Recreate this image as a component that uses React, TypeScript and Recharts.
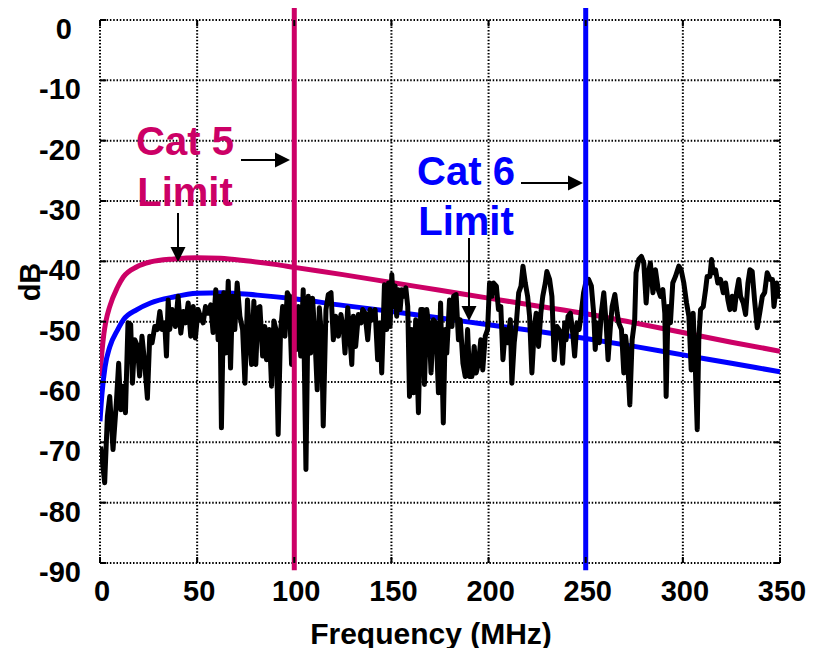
import React from "react";
import { LineChart, Line, XAxis, YAxis, CartesianGrid, ReferenceLine } from "recharts";

const X_TICKS = [0, 50, 100, 150, 200, 250, 300, 350];
const Y_TICKS = [0, -10, -20, -30, -40, -50, -60, -70, -80, -90];

// Cat 5 / Cat 6 limit curves
const cat5Freq = [0, 1, 2, 3, 5, 9, 12, 19, 26, 38, 50, 62, 75, 90, 100, 125, 150, 175, 200, 225, 250, 275, 300, 325, 350];
const cat5Db = [-59, -55, -52, -50, -47.5, -44.3, -42.6, -40.9, -40.1, -39.6, -39.4, -39.5, -39.9, -40.5, -41, -42.2, -43.5, -44.8, -46.1, -47.4, -48.7, -50.2, -51.8, -53.4, -54.9];
const cat6Freq = [0, 1, 2.6, 5, 9, 12, 19, 26, 38, 50, 63, 81, 100, 125, 150, 175, 200, 225, 250, 275, 300, 325, 350];
const cat6Db = [-66.5, -62, -57.5, -54.2, -51.4, -49.7, -48, -46.9, -45.9, -45.3, -45.2, -45.6, -46.2, -47.3, -48.3, -49.4, -50.5, -51.6, -52.8, -54.1, -55.5, -56.9, -58.3];

// measured trace
const noiseFreq = [
  0.3, 1.3, 2.4, 3.8, 5, 6.7, 8.4, 9.6, 10.7, 11.9, 13.1, 14.4, 15.8, 16.7, 17.9, 19.2, 20.4, 21.6, 23, 24.4,
  25.6, 26.8, 28.2, 29.6, 30.8, 32, 33.3, 34.2, 35.1, 35.9, 37.1, 38.8, 40.2, 41.6, 42.9, 44, 45.4, 46.7, 48, 49.1,
  50.5, 51.9, 53.1, 54.3, 55.7, 57, 58.2, 59.6, 60.8, 61.7, 62.5, 63.7, 64.8, 66, 67.2, 68.2, 69.4, 70.6, 72, 73.4,
  74.6, 75.9, 77.2, 78, 79.2, 80.2, 81.4, 82.3, 83.7, 84.8, 85.7, 87.1, 88.3, 89.5, 90.6, 91.7, 92.9, 94, 95.2, 96.4,
  97.4, 98.6, 99.5, 100.3, 101.2, 102.1, 103.3, 104.6, 106, 107.2, 108.4, 109.4, 110.6, 111.8, 112.9, 114.1, 114.9, 116.3, 117.5, 118.9,
  120.1, 121.3, 122.7, 124, 125.3, 126.1, 127.5, 128.7, 129.6, 130.4, 131.6, 133, 134.4, 135.2, 136.4, 137.8, 139, 140.2, 141.6, 142.9,
  144.2, 145, 146.4, 147.6, 148.5, 149.3, 150.2, 151, 151.9, 152.7, 153.6, 154.5, 155.3, 156.2, 157.4, 158.4, 159.3, 160.5, 161.3, 162.5,
  163.9, 165.1, 166.1, 167, 168.2, 169.4, 170.4, 171.6, 172.8, 174.2, 175.3, 176.7, 177.7, 178.5, 179.9, 181.2, 182, 183.3, 184.5, 185.4,
  186.8, 188, 189.2, 190.2, 191.4, 192.6, 193.6, 194.8, 196, 197, 198.3, 199.5, 200.5, 201.7, 202.6, 204, 205.1, 206.3, 207.4, 208.6,
  209.8, 211.2, 212, 213.2, 214.3, 215.5, 216.7, 217.7, 218.9, 220.1, 221.1, 222.3, 223.6, 224.5, 225.7, 226.9, 227.9, 229.2, 230, 231.4,
  232.6, 233.8, 235.2, 236.6, 237.5, 238.1, 239.2, 239.9, 240.9, 242.1, 243.3, 244.3, 245.5, 246.6, 247.7, 248.9, 250.2, 251.5, 252.9, 254.1,
  254.9, 255.8, 257, 258, 259.3, 260.5, 261.5, 262.7, 263.6, 265, 266.2, 267, 268.4, 269.6, 270.5, 271.3, 272.7, 273.9, 275.2, 275.9,
  277.3, 278.7, 279.9, 281.1, 282.2, 283.3, 284.6, 285.9, 287.3, 288.5, 289.7, 290.7, 291.4, 292.4, 293.6, 294.8, 296.2, 297.9, 299.1, 300.5,
  301.9, 303.1, 304.3, 305.3, 306.5, 307.4, 308.2, 309.1, 310.5, 311.7, 312.5, 313.9, 314.8, 315.6, 316.8, 318, 319.4, 320.8, 322, 323.2,
  324.2, 325.4, 326.6, 327.6, 328.8, 329.7, 331.1, 332.3, 333.5, 334.5, 335.7, 336.9, 338.3, 339.7, 340.9, 342.1, 343.4, 344.9, 346.1, 346.9,
  348.3, 349.5, 350,
];
const noiseDb = [
  -70.7, -73.4, -76.7, -65.7, -62.4, -71.2, -63.5, -56.9, -64.6, -60.7, -65.1, -50.2, -50.5, -60.2, -53, -54, -59, -52.4, -56.9, -62.7,
  -52.4, -53.5, -50.8, -51.3, -48.3, -51.3, -50.2, -55.7, -46.4, -51.3, -48, -50.8, -45.8, -51.9, -48.3, -50.2, -46.9, -52.4, -47.5, -52.7,
  -48, -49.4, -50.2, -47.5, -48.6, -47.2, -51.8, -44.7, -53, -45.8, -67.6, -45.2, -55.2, -43.3, -57.7, -45.8, -51.3, -43.6, -49.1, -51.3,
  -60.2, -46.4, -53.5, -57.1, -46.6, -57.1, -47.7, -47.5, -55.7, -50.8, -56.3, -51.3, -60.7, -49.9, -51.3, -68.7, -51.9, -47.5, -52.4, -45.2,
  -45.8, -57.1, -45.8, -53, -54.6, -47.5, -55.7, -44.7, -74.5, -45.8, -55.2, -46.1, -52.4, -61.3, -47.7, -53, -67.3, -48, -45.5, -45.2,
  -53, -49.1, -52.4, -48.8, -51.3, -55.2, -47.7, -53, -57.1, -49.1, -54.1, -48.8, -50.2, -48, -48.6, -53, -48, -49.7, -48, -56.3,
  -50.2, -58.5, -43.9, -51.3, -43.6, -50.8, -42.2, -47.5, -44.1, -49.1, -44.7, -48, -44.7, -45.8, -44.4, -47.5, -62.4, -51.3, -61.8, -49.7,
  -65.1, -48, -48, -60.4, -48, -51.3, -58.5, -49.7, -50.2, -61.8, -46.9, -66.8, -51.3, -55.2, -46.4, -50.8, -45.8, -45.5, -53, -49.7,
  -56.9, -59.1, -51.3, -59.1, -59.1, -54.1, -58.5, -56.9, -53, -58, -52.4, -51.3, -43.6, -45.8, -43.6, -44.1, -48, -47.5, -56.3, -51.3,
  -53.5, -49.7, -60.2, -53.5, -50.2, -45.2, -44.1, -40.8, -43.6, -45.8, -49.1, -58.5, -50.8, -48.6, -54.1, -48.6, -45.8, -43.6, -41.7, -43,
  -45.8, -56.3, -50.8, -51.5, -53.5, -56.9, -50.2, -53, -49.1, -48.6, -51.9, -55.7, -50.2, -51.3, -48.6, -45.2, -43.3, -43, -44.1, -48.6,
  -54.6, -50.2, -53.5, -48.6, -45.2, -50.2, -56.3, -50.8, -47.5, -45.5, -48.6, -50.2, -51.3, -58.5, -52.4, -54.6, -63.8, -53, -49.7, -41.9,
  -39.7, -39.2, -40.3, -46.9, -41.9, -40.3, -45.2, -41.4, -44.7, -45.8, -44.7, -48.6, -62.4, -47.5, -50.2, -43.6, -42.5, -40.8, -41.4, -43.6,
  -46.9, -49.1, -58, -48.6, -58.5, -67.9, -53, -48, -47.5, -44.7, -42.5, -42.5, -39.7, -41.9, -41.4, -43.6, -43, -45.2, -43.6, -46.4,
  -48, -45.8, -48, -45.2, -43, -45.8, -46.9, -48.8, -43.6, -41.4, -41.7, -46.4, -51, -48.3, -45.8, -45.2, -41.9, -43, -43, -47.5,
  -43.6, -45.8, -44.7,
];

const cat5Data = cat5Freq.map((f, i) => ({ f, v: cat5Db[i] }));
const cat6Data = cat6Freq.map((f, i) => ({ f, v: cat6Db[i] }));
const noiseData = noiseFreq.map((f, i) => ({ f, v: noiseDb[i] }));

const PINK = "#cc0066";
const BLUE = "#0000ff";
const FONT = "'Liberation Sans', Arial, sans-serif";

const W = 800;
const H = 640;
const PLOT_TOP = 12;
const PLOT_RIGHT = 772;

const YTick = (props: any) => {
  const { x, y, payload } = props;
  // the "0" label sits a little further left in the original
  const shift = payload.value === 0 ? 9 : 0;
  return (
    <g>
      <line x1={x} x2={x + 6} y1={y} y2={y} stroke="#000" strokeWidth={2} />
      <line x1={PLOT_RIGHT} x2={PLOT_RIGHT - 6} y1={y} y2={y} stroke="#000" strokeWidth={2} />
      <text x={x - 19 - shift} y={y + 9} textAnchor="end" dominantBaseline="central"
        fontFamily={FONT} fontWeight="bold" fontSize={29} fill="#000">
        {payload.value}
      </text>
    </g>
  );
};

const XTick = (props: any) => {
  const { x, y, payload } = props;
  return (
    <g>
      <line x1={x} x2={x} y1={y} y2={y - 6} stroke="#000" strokeWidth={2} />
      <line x1={x} x2={x} y1={PLOT_TOP} y2={PLOT_TOP + 6} stroke="#000" strokeWidth={2} />
      <text x={x + 2} y={y + 28} textAnchor="middle" dominantBaseline="central"
        fontFamily={FONT} fontWeight="bold" fontSize={29} fill="#000">
        {payload.value}
      </text>
    </g>
  );
};

const Arrow = ({ x1, y1, x2, y2 }: { x1: number; y1: number; x2: number; y2: number }) => {
  const ang = Math.atan2(y2 - y1, x2 - x1);
  const len = 15;
  const half = 7.5;
  const bx = x2 - len * Math.cos(ang);
  const by = y2 - len * Math.sin(ang);
  const px = -Math.sin(ang) * half;
  const py = Math.cos(ang) * half;
  return (
    <g>
      <line x1={x1} y1={y1} x2={bx} y2={by} stroke="#000" strokeWidth={2} />
      <polygon points={`${x2},${y2} ${bx + px},${by + py} ${bx - px},${by - py}`} fill="#000" />
    </g>
  );
};

export default function App() {
  const boldText = { fontFamily: FONT, fontWeight: "bold" as const };
  return (
    <div style={{ position: "relative", width: W, height: H, background: "#fff" }}>
      <LineChart width={W} height={H} margin={{ top: PLOT_TOP, right: W - PLOT_RIGHT, left: 32, bottom: 35 }}>
        <CartesianGrid stroke="#000" strokeWidth={2} strokeDasharray="1.5 1.8" />
        <XAxis type="number" dataKey="f" domain={[0, 350]} ticks={X_TICKS} height={50}
          axisLine={false} tickLine={false} tickSize={0} tickMargin={0} tick={<XTick />}
          interval={0} allowDataOverflow />
        <YAxis type="number" dataKey="v" domain={[-90, 0]} ticks={Y_TICKS} width={60}
          axisLine={false} tickLine={false} tickSize={0} tickMargin={0} tick={<YTick />}
          interval={0} allowDataOverflow />
        <Line data={cat5Data} dataKey="v" type="monotone" stroke={PINK} strokeWidth={5}
          dot={false} isAnimationActive={false} />
        <Line data={cat6Data} dataKey="v" type="monotone" stroke={BLUE} strokeWidth={5}
          dot={false} isAnimationActive={false} />
        <Line data={noiseData} dataKey="v" type="linear" stroke="#000" strokeWidth={5}
          strokeLinejoin="round" dot={false} isAnimationActive={false} />
        <ReferenceLine segment={[{ x: 100, y: 2.8 }, { x: 100, y: -91.2 }]} stroke={PINK}
          strokeWidth={5} ifOverflow="visible" />
        <ReferenceLine segment={[{ x: 250, y: 2.8 }, { x: 250, y: -91.2 }]} stroke={BLUE}
          strokeWidth={5} ifOverflow="visible" />
      </LineChart>
      <svg width={W} height={H} style={{ position: "absolute", left: 0, top: 0, pointerEvents: "none" }}>
        <text x={22} y={274} transform="rotate(-90 22 274)" textAnchor="middle" dominantBaseline="central"
          fontSize={29} fill="#000" {...boldText}>dB</text>
        <text x={423} y={625} textAnchor="middle" dominantBaseline="central"
          fontSize={30} fill="#000" {...boldText}>Frequency (MHz)</text>
        <text x={177} y={147} textAnchor="middle" fontSize={40} fill={PINK} {...boldText}>Cat 5</text>
        <text x={177} y={198} textAnchor="middle" fontSize={40} fill={PINK} {...boldText}>Limit</text>
        <text x={458} y={177} textAnchor="middle" fontSize={40} fill={BLUE} {...boldText}>Cat 6</text>
        <text x={458} y={227} textAnchor="middle" fontSize={40} fill={BLUE} {...boldText}>Limit</text>
        <Arrow x1={233} y1={152} x2={282} y2={152} />
        <Arrow x1={513} y1={175} x2={575} y2={175} />
        <Arrow x1={170} y1={205} x2={170} y2={254} />
        <Arrow x1={461} y1={230} x2={461} y2={313} />
      </svg>
    </div>
  );
}
